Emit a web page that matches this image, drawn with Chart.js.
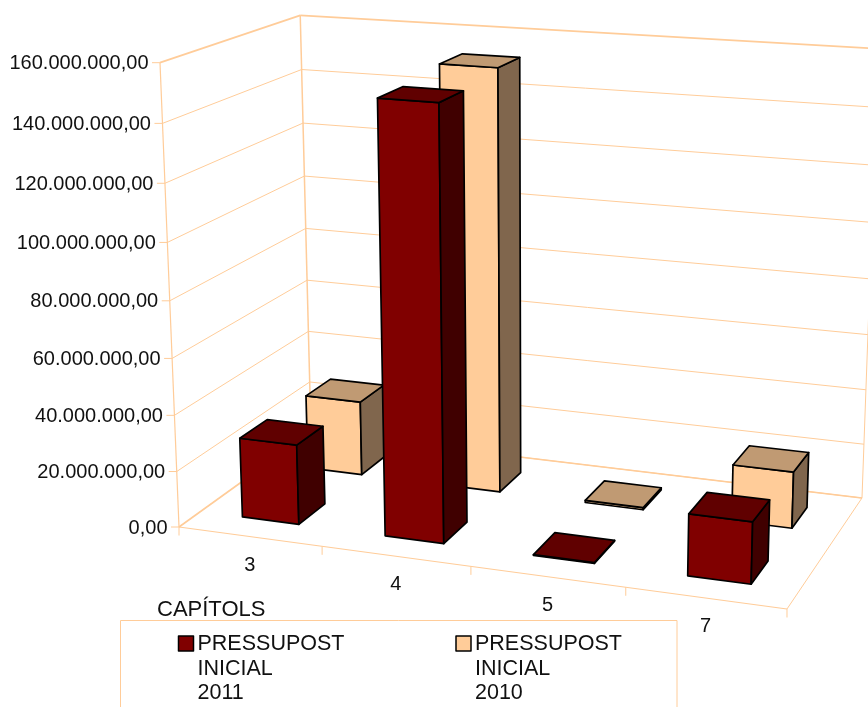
<!DOCTYPE html>
<html>
<head>
<meta charset="utf-8">
<title>Capítols</title>
<script src="https://cdn.jsdelivr.net/npm/chart.js@4"></script>
<style>
    html, body { margin: 0; padding: 0; background: #fff; overflow: hidden; }
    canvas { display: block; }
</style>
</head>
<body>
<canvas id="grafic" width="868" height="707"></canvas>
<script>
const capitols = ['3', '4', '5', '7'];
const pressupost2011 = [28600000, 150300000, 300000, 21400000];
const pressupost2010 = [27600000, 152500000, 800000, 20300000];
const etiquetesY = ['0,00', '20.000.000,00', '40.000.000,00', '60.000.000,00', '80.000.000,00',
    '100.000.000,00', '120.000.000,00', '140.000.000,00', '160.000.000,00'];
const nomAxeX = 'CAPÍTOLS';
const nom2011 = ['PRESSUPOST', 'INICIAL', '2011'];
const nom2010 = ['PRESSUPOST', 'INICIAL', '2010'];

const LINIA = '#ffcc99';
const FONT = '"Liberation Sans", Arial, sans-serif';

// perspectiva: u = eix categories, v = valor, w = profunditat (tot de 0 a 1)
function proj(u, v, w) {
    const d = 1 - 0.07645 * u + 0.11385 * w - 0.05 * v;
    return {
        x: (547.83 * u + 167.4 * w - 27 * v + 179) / d,
        y: (35.44 * u - 45.82 * w + (-467.44 + 2.54 * w - 3.7 * u * w) * v + 527) / d
    };
}

function linia(ctx, a, b, gruix, color) {
    ctx.beginPath();
    ctx.moveTo(a.x, a.y);
    ctx.lineTo(b.x, b.y);
    ctx.lineWidth = gruix;
    ctx.strokeStyle = color || LINIA;
    ctx.stroke();
}

function cara(ctx, punts, color) {
    ctx.beginPath();
    punts.forEach((p, i) => i ? ctx.lineTo(p.x, p.y) : ctx.moveTo(p.x, p.y));
    ctx.closePath();
    ctx.fillStyle = color;
    ctx.fill();
    ctx.lineWidth = 1.7;
    ctx.strokeStyle = '#000';
    ctx.lineJoin = 'round';
    ctx.stroke();
}

function dibuixaParets(chart) {
    const ctx = chart.ctx, y = chart.scales.y, area = chart.chartArea;
    ctx.textAlign = 'right';
    ctx.textBaseline = 'middle';
    ctx.font = '20px ' + FONT;
    y.ticks.forEach(t => {
        const v = (area.bottom - y.getPixelForValue(t.value)) / area.height;
        const a = proj(0, v, 0), b = proj(0, v, 1), c = proj(1, v, 1);
        const gruix = v === 1 ? 1.8 : 1;
        linia(ctx, a, b, gruix);
        linia(ctx, b, c, gruix);
        linia(ctx, a, { x: a.x - 8, y: a.y }, 1);
        ctx.fillStyle = '#111';
        ctx.fillText(t.label, a.x - 11.5, a.y + 1);
    });
    linia(ctx, proj(0, 0, 0), proj(0, 1, 0), 1.2);
    linia(ctx, proj(0, 0, 1), proj(0, 1, 1), 1.5);
    linia(ctx, proj(1, 0, 1), proj(1, 1, 1), 1);
    linia(ctx, proj(0, 0, 0), proj(0, 0, 1), 1.6);
    linia(ctx, proj(0, 0, 0), proj(1, 0, 0), 1.2);
    linia(ctx, proj(1, 0, 0), proj(1, 0, 1), 1);
    linia(ctx, proj(0, 0, 1), proj(1, 0, 1), 1.6);
}

function dibuixaEixX(chart) {
    const ctx = chart.ctx, x = chart.scales.x, area = chart.chartArea;
    for (let i = 0; i <= capitols.length; i++) {
        const p = proj(i / capitols.length, 0, 0);
        linia(ctx, p, { x: p.x, y: p.y + 8.5 }, 1);
    }
    ctx.textAlign = 'center';
    ctx.textBaseline = 'middle';
    ctx.font = '20px ' + FONT;
    ctx.fillStyle = '#111';
    x.ticks.forEach((t, i) => {
        const p = proj((x.getPixelForTick(i) - area.left) / area.width, 0, 0);
        ctx.fillText(t.label, p.x, p.y + 28.5);
    });
}

function dibuixaBarres(chart, index, w0, w1, colors) {
    const ctx = chart.ctx, area = chart.chartArea;
    chart.getDatasetMeta(index).data.forEach(bar => {
        const u0 = (bar.x - bar.width / 2 - area.left) / area.width;
        const u1 = (bar.x + bar.width / 2 - area.left) / area.width;
        const v = (area.bottom - bar.y) / area.height;
        cara(ctx, [proj(u0, 0, w0), proj(u1, 0, w0), proj(u1, v, w0), proj(u0, v, w0)], colors[0]);
        cara(ctx, [proj(u1, 0, w0), proj(u1, 0, w1), proj(u1, v, w1), proj(u1, v, w0)], colors[2]);
        cara(ctx, [proj(u0, v, w0), proj(u1, v, w0), proj(u1, v, w1), proj(u0, v, w1)], colors[1]);
    });
}

function dibuixaLlegenda(chart) {
    const ctx = chart.ctx;
    ctx.strokeStyle = LINIA;
    ctx.lineWidth = 1;
    ctx.strokeRect(120.5, 620.5, 556.5, 120);
    ctx.textAlign = 'left';
    ctx.textBaseline = 'alphabetic';
    ctx.font = '22px ' + FONT;
    ctx.fillStyle = '#111';
    ctx.fillText(nomAxeX, 157, 616);
    ctx.font = '21.5px ' + FONT;
    [[nom2011, 178.5, '#800000'], [nom2010, 456, '#ffcc99']].forEach(([nom, x, color]) => {
        ctx.fillStyle = color;
        ctx.fillRect(x, 636, 15, 15);
        ctx.strokeStyle = '#000';
        ctx.lineWidth = 1.5;
        ctx.strokeRect(x, 636, 15, 15);
        ctx.fillStyle = '#111';
        nom.forEach((t, i) => ctx.fillText(t, x + 19, 650 + i * 24.5));
    });
}

const grafic3d = {
    id: 'grafic3d',
    beforeDatasetsDraw(chart) {
        dibuixaParets(chart);
        dibuixaEixX(chart);
        // fila del fons primer
        dibuixaBarres(chart, 1, 0.65, 0.85, ['#ffcc99', '#c09a73', '#80664d']);
        dibuixaBarres(chart, 0, 0.15, 0.35, ['#800000', '#600000', '#400000']);
        dibuixaLlegenda(chart);
        return false;
    }
};

new Chart(document.getElementById('grafic').getContext('2d'), {
    type: 'bar',
    data: {
        labels: capitols,
        datasets: [
            { label: nom2011.join(' '), data: pressupost2011, backgroundColor: '#800000', grouped: false, barPercentage: 0.4, categoryPercentage: 1 },
            { label: nom2010.join(' '), data: pressupost2010, backgroundColor: '#ffcc99', grouped: false, barPercentage: 0.4, categoryPercentage: 1 }
        ]
    },
    options: {
        responsive: false,
        animation: false,
        layout: { padding: { left: 179, right: 81, top: 62, bottom: 180 } },
        plugins: { legend: { display: false }, tooltip: { enabled: false } },
        scales: {
            x: { display: false },
            y: {
                display: false,
                min: 0,
                max: 160000000,
                ticks: { stepSize: 20000000, callback: (v, i) => etiquetesY[i] }
            }
        }
    },
    plugins: [grafic3d]
});
</script>
</body>
</html>
